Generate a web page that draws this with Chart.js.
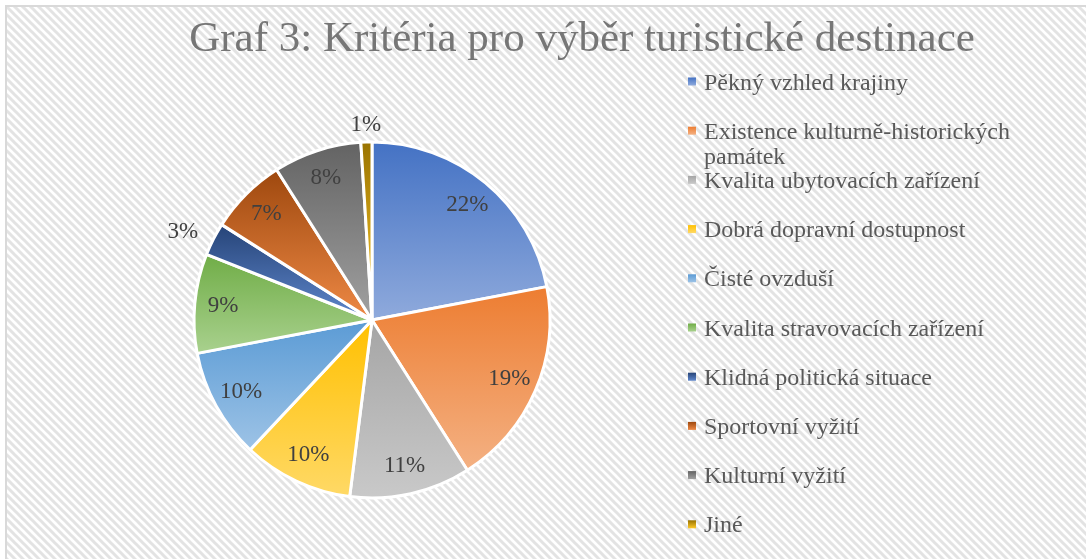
<!DOCTYPE html>
<html lang="cs">
<head>
<meta charset="utf-8">
<title>Graf 3</title>
<script src="https://cdn.jsdelivr.net/npm/chart.js@4.4.1/dist/chart.umd.min.js"></script>
<style>
  html, body { margin: 0; padding: 0; background: #fff; }
  #wrap { width: 1086px; height: 559px; }
</style>
</head>
<body>
<div id="wrap"><canvas id="grafCanvas" width="1086" height="559"></canvas></div>
<script>
// Kritéria pro výběr turistické destinace (podíl v %)
const chartTitle = 'Graf 3: Kritéria pro výběr turistické destinace';
const labels = [
  'Pěkný vzhled krajiny',
  'Existence kulturně-historických památek',
  'Kvalita ubytovacích zařízení',
  'Dobrá dopravní dostupnost',
  'Čisté ovzduší',
  'Kvalita stravovacích zařízení',
  'Klidná politická situace',
  'Sportovní vyžití',
  'Kulturní vyžití',
  'Jiné'
];
const values = [22, 19, 11, 10, 10, 9, 3, 7, 8, 1];
const colors = ['#4472C4', '#ED7D31', '#A5A5A5', '#FFC000', '#5B9BD5', '#70AD47', '#264478', '#9E480E', '#636363', '#997300'];

const serif = '"Liberation Serif", "Times New Roman", serif';

// zesvetleni barvy v HSL (spodni konec prechodu)
function lighten(hex, k) {
  const r = parseInt(hex.slice(1, 3), 16) / 255;
  const g = parseInt(hex.slice(3, 5), 16) / 255;
  const b = parseInt(hex.slice(5, 7), 16) / 255;
  const max = Math.max(r, g, b), min = Math.min(r, g, b);
  let h = 0, s = 0, l = (max + min) / 2;
  if (max !== min) {
    const d = max - min;
    s = l > 0.5 ? d / (2 - max - min) : d / (max + min);
    if (max === r) h = (g - b) / d + (g < b ? 6 : 0);
    else if (max === g) h = (b - r) / d + 2;
    else h = (r - g) / d + 4;
    h /= 6;
  }
  l = l + (1 - l) * k;
  const hue2rgb = (p, q, t) => {
    if (t < 0) t += 1;
    if (t > 1) t -= 1;
    if (t < 1 / 6) return p + (q - p) * 6 * t;
    if (t < 1 / 2) return q;
    if (t < 2 / 3) return p + (q - p) * (2 / 3 - t) * 6;
    return p;
  };
  let R, G, B;
  if (s === 0) { R = G = B = l; }
  else {
    const q = l < 0.5 ? l * (1 + s) : l + s - l * s;
    const p = 2 * l - q;
    R = hue2rgb(p, q, h + 1 / 3); G = hue2rgb(p, q, h); B = hue2rgb(p, q, h - 1 / 3);
  }
  return `rgb(${Math.round(R * 255)},${Math.round(G * 255)},${Math.round(B * 255)})`;
}

// svisly prechod pres kazdou vysec zvlast (jako v Excelu)
function sliceFill(ctx) {
  const i = ctx.dataIndex;
  if (ctx.type !== 'data' || i === undefined) return colors[0];
  const chart = ctx.chart;
  const area = chart.chartArea;
  if (!area) return colors[i];
  const total = values.reduce((a, b) => a + b, 0);
  const before = values.slice(0, i).reduce((a, b) => a + b, 0);
  const a0 = -Math.PI / 2 + 2 * Math.PI * before / total;
  const a1 = a0 + 2 * Math.PI * values[i] / total;
  const cy = (area.top + area.bottom) / 2;
  const r = (Math.min(area.width, area.height) - 3) / 2;
  const ys = [cy, cy + r * Math.sin(a0), cy + r * Math.sin(a1)];
  if (a0 <= Math.PI / 2 && a1 >= Math.PI / 2) ys.push(cy + r);
  if (a0 <= -Math.PI / 2 + 1e-9 || a1 >= 1.5 * Math.PI - 1e-9) ys.push(cy - r);
  const g = chart.ctx.createLinearGradient(0, Math.min(...ys), 0, Math.max(...ys));
  g.addColorStop(0, colors[i]);
  g.addColorStop(1, lighten(colors[i], 0.4));
  return g;
}

function wrapText(c, text, maxWidth) {
  const words = text.split(' ');
  const lines = [];
  let line = '';
  words.forEach(w => {
    const test = line ? line + ' ' + w : w;
    if (line && c.measureText(test).width > maxWidth) {
      lines.push(line);
      line = w;
    } else {
      line = test;
    }
  });
  lines.push(line);
  return lines;
}

// pozadi s jemnym sikmym srafovanim
const background = {
  id: 'background',
  beforeDraw(chart) {
    const c = chart.ctx;
    const tile = document.createElement('canvas');
    tile.width = tile.height = 8;
    const t = tile.getContext('2d');
    t.fillStyle = '#fff';
    t.fillRect(0, 0, 8, 8);
    t.strokeStyle = '#e3e3e3';
    t.lineWidth = 3;
    t.beginPath();
    t.moveTo(-2, -2); t.lineTo(10, 10);
    t.moveTo(-2, 6); t.lineTo(2, 10);
    t.moveTo(6, -2); t.lineTo(10, 2);
    t.stroke();
    c.save();
    c.fillStyle = '#fff';
    c.fillRect(0, 0, chart.width, chart.height);
    c.fillStyle = c.createPattern(tile, 'repeat');
    c.fillRect(7, 7, chart.width - 7, chart.height - 7);
    c.strokeStyle = '#d9d9d9';
    c.lineWidth = 2;
    c.strokeRect(6, 6, chart.width + 10, chart.height + 10);
    c.restore();
  }
};

// procenta ve vysecich (male hodnoty venku)
const sliceLabels = {
  id: 'sliceLabels',
  afterDatasetsDraw(chart) {
    const c = chart.ctx;
    const meta = chart.getDatasetMeta(0);
    c.save();
    c.font = '23px ' + serif;
    c.fillStyle = '#404040';
    c.textBaseline = 'middle';
    meta.data.forEach((arc, i) => {
      const {x, y, startAngle, endAngle, outerRadius} = arc.getProps(['x', 'y', 'startAngle', 'endAngle', 'outerRadius'], true);
      const mid = (startAngle + endAngle) / 2;
      const cos = Math.cos(mid), sin = Math.sin(mid);
      const text = values[i] + '%';
      if (values[i] >= 5) {
        c.textAlign = 'center';
        c.fillText(text, x + cos * outerRadius * 0.84, y + sin * outerRadius * 0.84);
      } else {
        const d = outerRadius + 17;
        c.textAlign = Math.abs(cos) < 0.5 ? 'center' : (cos < 0 ? 'right' : 'left');
        c.fillText(text, x + cos * d, y + sin * d);
      }
    });
    c.restore();
  }
};

function drawLegend(chart, box) {
  const c = chart.ctx;
  c.save();
  c.font = '24px ' + serif;
  c.textAlign = 'left';
  c.textBaseline = 'alphabetic';
  labels.forEach((lab, i) => {
    const cy = 81.5 + 49.2 * i;
    const mx = box.left + 22;
    const g = c.createLinearGradient(0, cy - 4, 0, cy + 4);
    g.addColorStop(0, colors[i]);
    g.addColorStop(1, lighten(colors[i], 0.4));
    c.fillStyle = g;
    c.fillRect(mx, cy - 4, 8, 8);
    c.fillStyle = '#595959';
    wrapText(c, lab, 330).forEach((line, k) => {
      c.fillText(line, mx + 16, cy + 8 + k * 25);
    });
  });
  c.restore();
}

// misto vpravo pro legendu
const legendBox = {
  id: 'legendBox',
  beforeInit(chart) {
    const box = {
      position: 'right',
      weight: 10,
      fullSize: false,
      options: {},
      isHorizontal() { return false; },
      update(maxW, maxH) { this.width = 420; this.height = maxH; },
      draw() { drawLegend(chart, this); }
    };
    Chart.layouts.addBox(chart, box);
  }
};

const ctx = document.getElementById('grafCanvas').getContext('2d');
new Chart(ctx, {
  type: 'pie',
  data: {
    labels: labels,
    datasets: [{
      data: values,
      backgroundColor: sliceFill,
      borderColor: '#ffffff',
      borderWidth: 3
    }]
  },
  options: {
    responsive: false,
    animation: false,
    events: [],
    layout: {
      padding: { left: 78, right: 0, top: 0, bottom: 59.5 }
    },
    plugins: {
      legend: { display: false },
      tooltip: { enabled: false },
      title: {
        display: true,
        text: chartTitle,
        color: '#767676',
        font: { family: serif, size: 43, weight: 'normal', lineHeight: 1.2 },
        padding: { top: 14.2, bottom: 74.7 }
      }
    }
  },
  plugins: [background, legendBox, sliceLabels]
});
</script>
</body>
</html>
